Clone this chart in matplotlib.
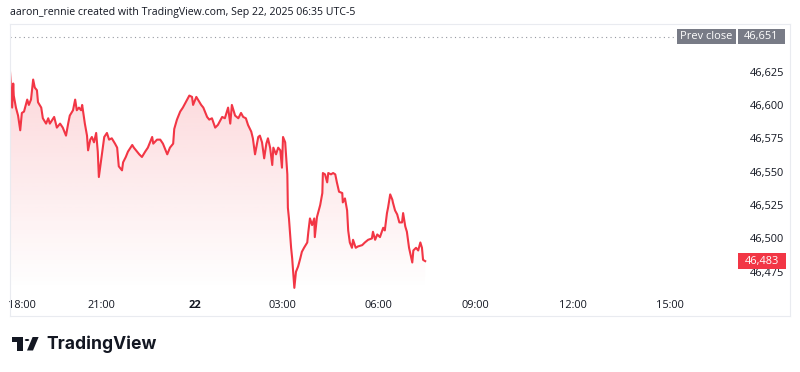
import numpy as np
import matplotlib
matplotlib.use("Agg")
import matplotlib.pyplot as plt
from matplotlib.patches import Rectangle, Polygon, Circle
from matplotlib.lines import Line2D

# minutes from the left edge of the chart (bar time) and price
minutes = [0, 2, 4, 6, 7, 11, 15, 19, 22, 26, 32, 35, 39, 43, 46, 50, 52, 58, 61, 67,
           71, 74, 82, 87, 93, 98, 104, 108, 111, 117, 121, 124, 128, 132, 134, 139, 143, 145, 149, 152,
           156, 160, 163, 165, 171, 175, 180, 184, 189, 195, 199, 202, 208, 210, 215, 219, 227, 230, 236, 240,
           245, 251, 256, 264, 266, 273, 279, 284, 292, 297, 303, 305, 310, 316, 321, 329, 333, 338, 340, 346,
           349, 355, 359, 366, 370, 375, 381, 386, 394, 399, 405, 409, 412, 418, 424, 429, 433, 438, 442, 448,
           451, 455, 461, 464, 468, 472, 476, 479, 483, 487, 489, 494, 498, 502, 505, 507, 511, 515, 516, 518,
           522, 524, 528, 531, 535, 539, 542, 546, 552, 554, 557, 561, 565, 566, 570, 572, 576, 580, 581, 585,
           589, 591, 596, 600, 604, 607, 611, 617, 618, 622, 626, 628, 631, 635, 637, 642, 646, 654, 659, 665,
           672, 674, 678, 682, 687, 693, 696, 700, 702, 706, 710, 711, 715, 719, 723, 728, 730, 734, 737, 741,
           747, 749, 754, 758, 762, 765, 767, 771]
prices = [46625, 46611, 46598, 46616, 46607, 46598, 46592, 46581, 46594, 46595, 46604, 46600, 46604, 46619, 46613, 46611, 46602, 46598, 46590, 46586,
          46590, 46586, 46591, 46583, 46586, 46583, 46577, 46586, 46592, 46596, 46604, 46596, 46598, 46596, 46600, 46586, 46577, 46566, 46574, 46576,
          46572, 46579, 46565, 46546, 46564, 46576, 46579, 46574, 46575, 46571, 46568, 46554, 46551, 46557, 46561, 46565, 46570, 46568, 46565, 46563,
          46561, 46565, 46568, 46576, 46571, 46574, 46574, 46571, 46563, 46568, 46571, 46582, 46589, 46595, 46598, 46604, 46607, 46606, 46600, 46606,
          46604, 46600, 46598, 46591, 46589, 46590, 46583, 46585, 46591, 46590, 46598, 46586, 46600, 46592, 46590, 46594, 46591, 46590, 46585, 46580,
          46575, 46563, 46576, 46577, 46572, 46560, 46571, 46575, 46568, 46555, 46568, 46563, 46568, 46566, 46553, 46576, 46572, 46548, 46523, 46515,
          46493, 46485, 46463, 46475, 46479, 46485, 46490, 46493, 46497, 46505, 46515, 46510, 46515, 46501, 46516, 46519, 46525, 46534, 46549, 46548,
          46542, 46549, 46548, 46549, 46548, 46542, 46535, 46534, 46527, 46530, 46521, 46506, 46497, 46493, 46499, 46493, 46494, 46495, 46497, 46499,
          46500, 46505, 46499, 46503, 46501, 46508, 46506, 46519, 46523, 46533, 46529, 46527, 46521, 46518, 46512, 46512, 46519, 46509, 46505, 46493,
          46482, 46491, 46493, 46491, 46497, 46493, 46484, 46483]

prev_close = 46651
last_price = 46483
price_ticks = [46475, 46500, 46525, 46550, 46575, 46600, 46625]
time_ticks = [23, 169, 343, 505, 685, 865, 1045, 1225]
time_labels = ["18:00", "21:00", "22", "03:00", "06:00", "09:00", "12:00", "15:00"]

RED = "#f23645"
TXT = "#131722"
GREY = "#787b86"
BORDER = "#e9ebf0"
W, H = 800, 372


def fx(px):
    return px / W


def fy(py):
    return 1 - py / H


plt.rcParams["font.family"] = ["Open Sans", "DejaVu Sans"]

fig = plt.figure(figsize=(8, 3.72), dpi=100)
ax = fig.add_axes([fx(10), fy(290), 727 / W, 266 / H])

x = np.array(minutes)
y = np.array(prices)
ymin, ymax = 46461.4, 46660.6
ax.set_xlim(0, 1350)
ax.set_ylim(ymin, ymax)

# gradient area under the line
poly = ax.fill_between(x, y, ymin, color="none", lw=0)
grad = np.zeros((256, 1, 4))
rgb = matplotlib.colors.to_rgb(RED)
grad[..., 0], grad[..., 1], grad[..., 2] = rgb
grad[:, 0, 3] = np.linspace(0.2, 0.0, 256)
im = ax.imshow(grad, aspect="auto", extent=[0, 1350, ymin, y.max()],
               origin="upper", zorder=1)
im.set_clip_path(poly.get_paths()[0], transform=ax.transData)

ax.plot(x, y, color=RED, lw=1.5, zorder=3, solid_joinstyle="round")

# previous close dotted line
ax.plot([0, 1237], [prev_close, prev_close], color="#9598a1", lw=0.8,
        linestyle=(0, (1, 3)), zorder=2)

for s in ax.spines.values():
    s.set_visible(False)

ax.yaxis.tick_right()
ax.set_yticks(price_ticks)
ax.set_yticklabels([f"{v:,}" for v in price_ticks])
ax.tick_params(axis="y", length=0, pad=34, labelsize=7.9, labelcolor=TXT)
for lbl in ax.get_yticklabels():
    lbl.set_ha("right")

ax.set_xticks(time_ticks)
ax.set_xticklabels(time_labels)
ax.tick_params(axis="x", length=0, pad=7, labelsize=7.9, labelcolor=TXT)
ax.get_xticklabels()[2].set_fontweight("bold")

# last price label
ytr = ax.get_yaxis_transform()
ax.add_patch(Rectangle((1.001, last_price - 6.0), 48 / 727, 12.0, transform=ytr,
                       facecolor=RED, edgecolor="none", clip_on=False, zorder=5))
ax.text(1.001 + 24 / 727, last_price, f"{last_price:,}", transform=ytr, color="white",
        fontsize=7.9, ha="center", va="center", zorder=6, clip_on=False)

# prev close labels
ax.add_patch(Rectangle((1 - 60 / 727, prev_close - 5.6), 59 / 727, 11.2, transform=ytr,
                       facecolor=GREY, edgecolor="none", clip_on=False, zorder=5))
ax.text(1 - 30.5 / 727, prev_close, "Prev close", transform=ytr, color="white",
        fontsize=7.9, ha="center", va="center", zorder=6)
ax.add_patch(Rectangle((1.001, prev_close - 5.6), 47 / 727, 11.2, transform=ytr,
                       facecolor=GREY, edgecolor="none", clip_on=False, zorder=5))
ax.text(1.001 + 23.5 / 727, prev_close, f"{prev_close:,}", transform=ytr, color="white",
        fontsize=7.9, ha="center", va="center", zorder=6, clip_on=False)

# outer frame
for (x0, y0, x1, y1) in [(9.5, 24, 790, 24), (9.5, 316, 790, 316),
                         (9.5, 24, 9.5, 316), (790, 24, 790, 316)]:
    fig.add_artist(Line2D([fx(x0), fx(x1)], [fy(y0), fy(y1)], color=BORDER, lw=0.8))

fig.text(fx(10), fy(13), "aaron_rennie created with TradingView.com, Sep 22, 2025 06:35 UTC-5",
         ha="left", va="center", fontsize=7.6, color=TXT)

# TradingView logo
s, ox, oy = 0.75, 12, 334
def lp(px, py):
    return (fx(ox + px * s), fy(oy + py * s))
fig.add_artist(Polygon([lp(0, 4), lp(14, 4), lp(14, 22), lp(7, 22), lp(7, 11), lp(0, 11)],
                       closed=True, transform=fig.transFigure, color=TXT, lw=0))
fig.add_artist(Polygon([lp(20, 22), lp(27.5, 4), lp(35.5, 4), lp(28, 22)],
                       closed=True, transform=fig.transFigure, color=TXT, lw=0))
fig.add_artist(Circle(lp(20, 8), 3 * s / W, transform=fig.transFigure, color=TXT, lw=0))
fig.text(fx(46), fy(344), "TradingView", ha="left", va="center", fontsize=12.6,
         fontweight="bold", color=TXT, family=["Inter", "DejaVu Sans"])

fig.savefig("out.png", dpi=100)
